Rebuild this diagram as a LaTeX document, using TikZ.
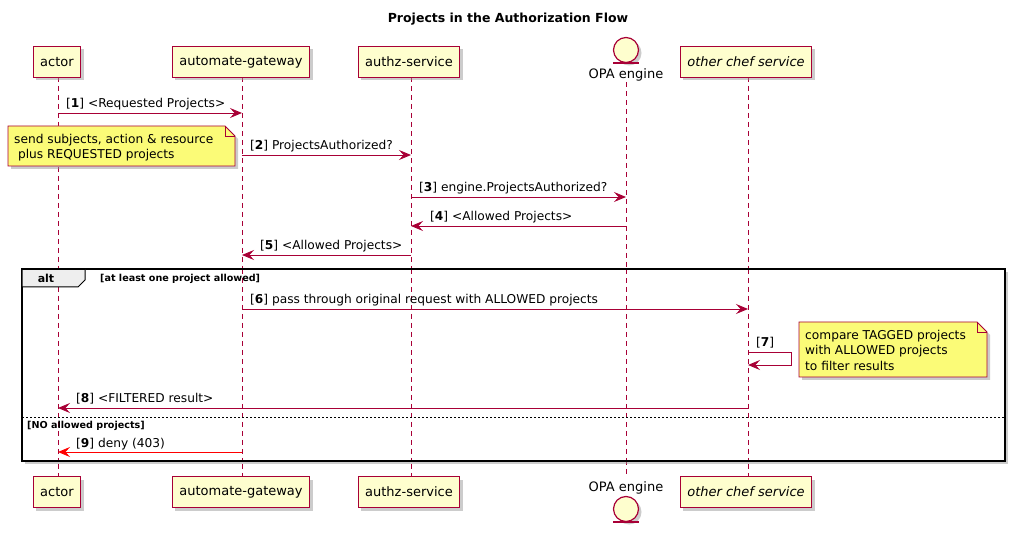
\documentclass[tikz,border=0pt]{standalone}
\usepackage{fontspec}
\setmainfont{DejaVu Sans}
\usetikzlibrary{arrows.meta,shadows}
\definecolor{bord}{HTML}{A80036}
\definecolor{pfill}{HTML}{FEFECE}
\definecolor{nfill}{HTML}{FBFB77}
\definecolor{altfill}{HTML}{EEEEEE}
\newcommand{\fsz}[1]{\fontsize{#1}{#1}\selectfont}
\tikzset{
  shad/.style={drop shadow={shadow xshift=3pt,shadow yshift=-3pt,fill=black!40,opacity=0.5}},
  part/.style={draw=bord,fill=pfill,line width=1pt,minimum height=31pt,inner xsep=7pt,font=\fsz{13},anchor=center,shad},
  life/.style={draw=bord,line width=0.8pt,dash pattern=on 5pt off 4pt},
  msg/.style={draw=bord,line width=0.9pt,-{Stealth[length=12pt,width=10pt,inset=4.5pt]}},
  redmsg/.style={draw=red,line width=0.9pt,-{Stealth[length=12pt,width=10pt,inset=4.5pt]}},
  lbl/.style={font=\fsz{12.2},anchor=base west,inner sep=0pt},
  guard/.style={font=\bfseries\fsz{9.6},anchor=base west,inner sep=0pt},
  notetext/.style={font=\fontsize{12.2}{15.5}\selectfont,align=left,anchor=north west,inner sep=0pt},
}
\begin{document}
\begin{tikzpicture}[x=1pt,y=-1pt]
\useasboundingbox (0,0) rectangle (1015,534);
% title
\node[font=\bfseries\fsz{12.5},anchor=base] (title) at (508,23) {Projects in the Authorization Flow};
% lifelines
\coordinate (LA) at (58,77);   \coordinate (LAb) at (58,476);
\coordinate (LG) at (242,77);  \coordinate (LGb) at (242,476);
\coordinate (LZ) at (411,77);  \coordinate (LZb) at (411,476);
\coordinate (LO) at (626,82);  \coordinate (LOb) at (626,476);
\coordinate (LC) at (748,77);  \coordinate (LCb) at (748,476);
\draw[life] (LA) -- (LAb);
\draw[life] (LG) -- (LGb);
\draw[life] (LZ) -- (LZb);
\draw[life] (LO) -- (LOb);
\draw[life] (LC) -- (LCb);
% participants top
\node[part] (actT) at (57,62) {actor};
\node[part] (gwT) at (241,62) {automate-gateway};
\node[part] (azT) at (409,62) {authz-service};
\node[part,font=\itshape\fsz{13}] (ocT) at (746,62) {other chef service};
\node[circle,draw=bord,fill=pfill,line width=1.2pt,minimum size=25pt,inner sep=0pt,shad] (opaT) at (626,50) {};
\draw[bord,line width=1.4pt] (613,63) -- (639,63);
\node[font=\fsz{13},anchor=base] (opaTl) at (626,79) {OPA engine};
% participants bottom
\node[part] (actB) at (57,492) {actor};
\node[part] (gwB) at (241,492) {automate-gateway};
\node[part] (azB) at (409,492) {authz-service};
\node[part,font=\itshape\fsz{13}] (ocB) at (746,492) {other chef service};
\node[font=\fsz{13},anchor=base] (opaBl) at (626,491) {OPA engine};
\node[circle,draw=bord,fill=pfill,line width=1.2pt,minimum size=25pt,inner sep=0pt,shad] (opaB) at (626,509) {};
\draw[bord,line width=1.4pt] (613,522) -- (639,522);
% alt frame
\draw[line width=2pt,fill=white,shad] (22,269) rectangle (1005,461);
\draw[life] (58,269) -- (58,461);
\draw[life] (242,269) -- (242,461);
\draw[life] (411,269) -- (411,461);
\draw[life] (626,269) -- (626,461);
\draw[life] (748,269) -- (748,461);
\draw[line width=2pt] (22,269) rectangle (1005,461);
\draw[fill=altfill,line width=1pt] (22,269) -- (85,269) -- (85,280) -- (78,287) -- (22,287) -- cycle;
\draw[line width=2pt] (22,269) -- (85,269);
\node[font=\bfseries\fsz{11},anchor=base] (alt) at (46,283) {alt};
\node[guard] (g1) at (100,282) {[at least one project allowed]};
\draw[line width=0.8pt,dash pattern=on 2pt off 2pt] (22,417) -- (1005,417);
\node[guard] (g2) at (27,429) {[NO allowed projects]};
% note 1
\draw[draw=bord,fill=nfill,line width=0.8pt,shad] (8,126) -- (225,126) -- (235,136) -- (235,166) -- (8,166) -- cycle;
\draw[bord,line width=0.8pt] (225,126) -- (225,136) -- (235,136);
\node[notetext] (n1) at (14,134) {send subjects, action \& resource\\\ plus REQUESTED projects};
% note 2
\draw[draw=bord,fill=nfill,line width=0.8pt,shad] (799,322) -- (977,322) -- (987,332) -- (987,377) -- (799,377) -- cycle;
\draw[bord,line width=0.8pt] (977,322) -- (977,332) -- (987,332);
\node[notetext] (n2) at (805,330) {compare TAGGED projects\\with ALLOWED projects\\to filter results};
% messages
\draw[msg] (LA |- 0,113) -- (LG |- 0,113);
\node[lbl] (l1) at (66,108) {[\textbf{1}] <Requested Projects>};
\draw[msg] (LG |- 0,155) -- (LZ |- 0,155);
\node[lbl] (l2) at (250,150) {[\textbf{2}] ProjectsAuthorized?};
\draw[msg] (LZ |- 0,197) -- (LO |- 0,197);
\node[lbl] (l3) at (419,192) {[\textbf{3}] engine.ProjectsAuthorized?};
\draw[msg] (LO |- 0,226) -- (LZ |- 0,226);
\node[lbl] (l4) at (430,221) {[\textbf{4}] <Allowed Projects>};
\draw[msg] (LZ |- 0,255) -- (LG |- 0,255);
\node[lbl] (l5) at (260,250) {[\textbf{5}] <Allowed Projects>};
\draw[msg] (LG |- 0,309) -- (LC |- 0,309);
\node[lbl] (l6) at (250,304) {[\textbf{6}] pass through original request with ALLOWED projects};
\coordinate (s7a) at (791,352);
\coordinate (s7b) at (791,365);
\draw[msg] (LC |- 0,352) -- (s7a) -- (s7b) -- (LC |- 0,365);
\node[lbl] (l7) at (756,347) {[\textbf{7}]};
\draw[msg] (LC |- 0,408) -- (LA |- 0,408);
\node[lbl] (l8) at (76,403) {[\textbf{8}] <FILTERED result>};
\draw[redmsg] (LG |- 0,452) -- (LA |- 0,452);
\node[lbl] (l9) at (76,447) {[\textbf{9}] deny (403)};
\end{tikzpicture}
\end{document}
